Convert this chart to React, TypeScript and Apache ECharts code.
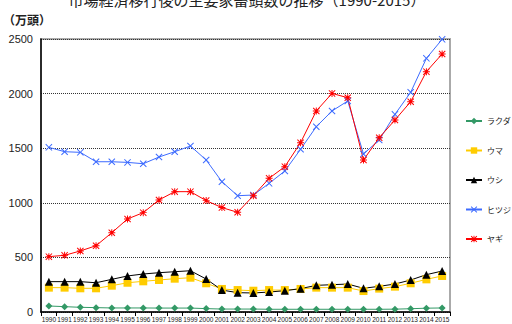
import React, { useEffect, useRef } from "react";
import * as echarts from "echarts";

const years = [
  "1990", "1991", "1992", "1993", "1994", "1995", "1996", "1997", "1998", "1999",
  "2000", "2001", "2002", "2003", "2004", "2005", "2006", "2007", "2008", "2009",
  "2010", "2011", "2012", "2013", "2014", "2015",
];

// 単位：万頭
const camel = [55, 49, 43, 40, 37, 37, 37, 36, 36, 36, 31, 27, 27, 27, 25, 25, 25, 25, 25, 25, 25, 25, 26, 30, 35, 37];
const horse = [223, 223, 217, 217, 241, 268, 281, 293, 305, 314, 263, 211, 201, 195, 201, 201, 211, 223, 223, 223, 192, 214, 232, 263, 299, 330];
const cattle = [278, 278, 278, 268, 299, 330, 348, 360, 369, 378, 302, 201, 177, 174, 183, 195, 214, 244, 250, 256, 217, 235, 256, 293, 342, 375];
const sheep = [1508, 1468, 1462, 1376, 1376, 1370, 1358, 1419, 1468, 1520, 1392, 1193, 1065, 1071, 1178, 1291, 1490, 1697, 1841, 1932, 1447, 1575, 1810, 2012, 2323, 2497];
const goat = [507, 519, 559, 607, 726, 852, 910, 1026, 1102, 1102, 1020, 956, 913, 1065, 1224, 1331, 1550, 1841, 2002, 1962, 1392, 1596, 1758, 1926, 2201, 2363];

const yTicks = { min: 0, max: 2500, interval: 500 };

const crossPath =
  "path://M0,1L1,0L5,4L9,0L10,1L6,5L10,9L9,10L5,6L1,10L0,9L4,5Z";
const starPath =
  "path://M0,1L1,0L5,4L9,0L10,1L6,5L10,9L9,10L5,6L1,10L0,9L4,5Z M4.3,0L5.7,0L5.7,10L4.3,10Z M0,4.3L10,4.3L10,5.7L0,5.7Z";

const FONT = "'Liberation Sans', Arial, 'Noto Sans CJK JP', sans-serif";
const JP = "'Noto Sans CJK JP', sans-serif";

function line(name: string, data: number[], color: string, symbol: string, size: number) {
  return {
    name,
    type: "line",
    data,
    symbol,
    symbolSize: size,
    showSymbol: true,
    lineStyle: { color, width: 1 },
    itemStyle: { color },
    emphasis: { disabled: true },
  };
}

export default function App() {
  const ref = useRef<HTMLDivElement>(null);

  useEffect(() => {
    if (!ref.current) return;
    const chart = echarts.init(ref.current, null, { renderer: "svg" });
    chart.setOption({
      animation: false,
      backgroundColor: "#ffffff",
      textStyle: { fontFamily: FONT },
      title: {
        text: "市場経済移行後の主要家畜頭数の推移（1990-2015）",
        left: 242,
        textAlign: "center",
        top: -13,
        textStyle: { fontSize: 15, fontWeight: "normal", color: "#222", fontFamily: JP },
      },
      grid: {
        left: 37,
        right: 62,
        top: 39,
        bottom: 12,
        show: true,
        borderColor: "#aaaaaa",
        borderWidth: 2,
      },
      legend: {
        orient: "vertical",
        left: 465,
        top: 117,
        padding: 0,
        itemGap: 21.5,
        itemWidth: 16,
        itemHeight: 8,
        textStyle: { fontSize: 8, color: "#222", fontFamily: JP },
        data: ["ラクダ", "ウマ", "ウシ", "ヒツジ", "ヤギ"],
      },
      xAxis: {
        type: "category",
        data: years,
        boundaryGap: true,
        axisLine: { lineStyle: { color: "#000", width: 1.5 } },
        axisTick: { show: true, length: 4, lineStyle: { color: "#000" } },
        axisLabel: {
          fontSize: 6.5,
          color: "#222",
          margin: 4,
          interval: 0,
        },
      },
      yAxis: {
        type: "value",
        min: yTicks.min,
        max: yTicks.max,
        interval: yTicks.interval,
        name: "（万頭）",
        nameLocation: "end",
        nameGap: 14,
        nameTextStyle: {
          fontSize: 12,
          fontWeight: "bold",
          color: "#222",
          align: "right",
          padding: [0, -10, 0, 0],
          fontFamily: JP,
        },
        axisLine: { show: true, lineStyle: { color: "#000", width: 1.5 } },
        axisTick: { show: false },
        axisLabel: {
          fontSize: 11,
          color: "#222",
          margin: 8,
          formatter: (v: number) => String(v),
        },
        splitLine: { lineStyle: { color: "#333", type: [1, 1], width: 1 } },
      },
      series: [
        line("ラクダ", camel, "#339966", "diamond", 7),
        line("ウマ", horse, "#ffcc00", "rect", 8),
        line("ウシ", cattle, "#000000", "triangle", 8),
        line("ヒツジ", sheep, "#3d6bff", crossPath, 7),
        line("ヤギ", goat, "#ff0000", starPath, 7),
      ],
    });
    return () => chart.dispose();
  }, []);

  return <div ref={ref} style={{ width: 512, height: 324, position: "absolute", left: 0, top: 0 }} />;
}
